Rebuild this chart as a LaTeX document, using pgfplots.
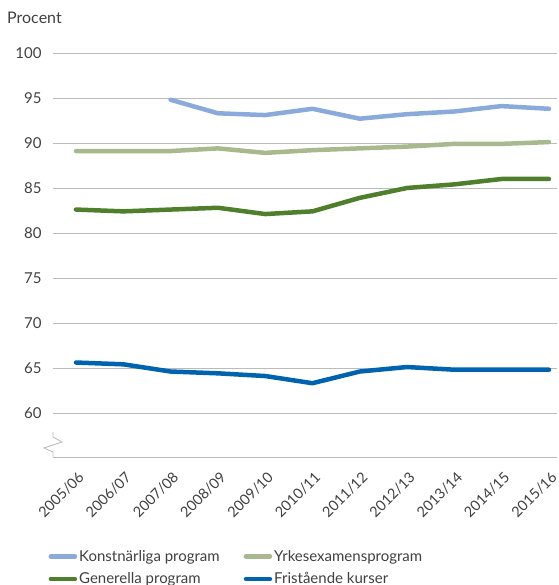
\documentclass[border=0pt]{standalone}
\usepackage{pgfplots}
\pgfplotsset{compat=1.18}
\usepackage{fontspec}
\setmainfont{Lato}
\definecolor{txt}{HTML}{404040}
\definecolor{konst}{HTML}{8AAADC}
\definecolor{yrkes}{HTML}{A9B98E}
\definecolor{gener}{HTML}{4F7F2C}
\definecolor{frist}{HTML}{0063B0}
\definecolor{gridc}{HTML}{BBBBBB}
\begin{document}
\begin{tikzpicture}
\begin{axis}[
  name=ax,
  scale only axis, width=504pt, height=404pt,
  xmin=-0.486, xmax=10.17, ymin=55.1, ymax=100,
  axis lines*=left,
  y axis line style={draw=none},
  x axis line style={draw=gridc, line width=0.8pt, -},
  major tick length=0pt,
  ymajorgrids, grid style={draw=gridc, line width=0.8pt},
  ytick={60,65,...,100},
  xtick={0,...,10},
  xticklabels={2005/06,2006/07,2007/08,2008/09,2009/10,2010/11,2011/12,2012/13,2013/14,2014/15,2015/16},
  xticklabel style={xshift=9pt, yshift=-21pt, rotate=45, anchor=base east, inner sep=0pt, font=\fontsize{14.5}{16}\selectfont},
  yticklabel style={xshift=-8pt, font=\fontsize{15}{18}\selectfont},
  tick label style={text=txt},
  /pgf/number format/assume math mode=true,
  legend columns=2,
  legend cell align=left,
  legend style={draw=none, fill=none, at={(axis description cs:-0.015,-0.22)}, anchor=north west,
    font=\fontsize{15}{17}\selectfont, text=txt, row sep=6pt,
    /tikz/every even column/.append style={column sep=22pt}},
  legend image code/.code={\draw[line width=4.5pt, line cap=round] (0pt,0pt) -- (24pt,0pt);},
  every axis plot/.append style={line width=4.5pt, line cap=round, line join=round},
]
\addplot[konst] coordinates {(2,94.8) (3,93.3) (4,93.1) (5,93.8) (6,92.7) (7,93.2) (8,93.5) (9,94.1) (10,93.8)};
\addlegendentry{Konstnärliga program}
\addplot[yrkes] coordinates {(0,89.1) (1,89.1) (2,89.1) (3,89.4) (4,88.9) (5,89.2) (6,89.4) (7,89.6) (8,89.9) (9,89.9) (10,90.1)};
\addlegendentry{Yrkesexamensprogram}
\addplot[gener] coordinates {(0,82.6) (1,82.4) (2,82.6) (3,82.8) (4,82.1) (5,82.4) (6,83.9) (7,85.0) (8,85.4) (9,86.0) (10,86.0)};
\addlegendentry{Generella program}
\addplot[frist] coordinates {(0,65.6) (1,65.4) (2,64.6) (3,64.4) (4,64.1) (5,63.3) (6,64.6) (7,65.1) (8,64.8) (9,64.8) (10,64.8)};
\addlegendentry{Fristående kurser}
\end{axis}
\draw[gridc, line width=0.8pt, line join=miter] (ax.south west) -- ++(0,5pt) -- ++(-9pt,4pt) -- ++(18pt,6pt) -- ++(-9pt,5pt) -- ++(0,5pt);
\node[anchor=base west, inner sep=0pt, text=txt, font=\fontsize{16}{18}\selectfont] at ([xshift=-46pt,yshift=29pt]ax.north west) {Procent};
\pgfresetboundingbox
\useasboundingbox ([xshift=-53pt,yshift=-128pt]ax.south west) rectangle ([xshift=2pt,yshift=53pt]ax.north east);
\end{tikzpicture}
\end{document}
